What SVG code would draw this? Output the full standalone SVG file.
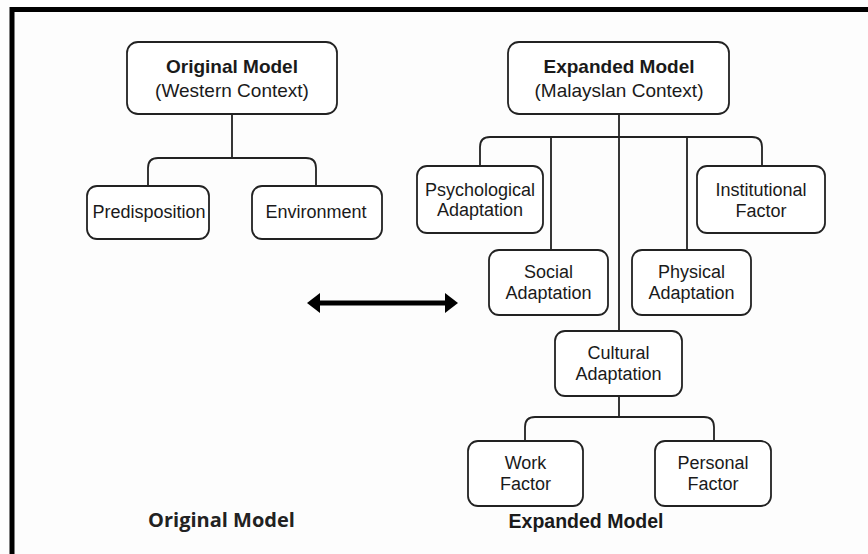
<svg xmlns="http://www.w3.org/2000/svg" width="868" height="554" viewBox="0 0 868 554">
<defs>
<style>
.box{fill:#ffffff;stroke:#222;stroke-width:1.8}
.t{font-family:"Liberation Sans",Arial,sans-serif;font-size:18px;fill:#1a1a1a;text-anchor:middle}
.h{font-family:"Liberation Sans",Arial,sans-serif;font-size:19px;fill:#1a1a1a;text-anchor:middle}
.b{font-weight:bold}
.lbl{font-family:"Open Sans","Liberation Sans",sans-serif;font-size:20px;font-weight:bold;fill:#222;text-anchor:middle}
.c{fill:none;stroke:#222;stroke-width:1.8}
</style>
</defs>
<rect width="868" height="554" fill="#fdfdfd"/>
<path d="M12 554 V9.5 H868" fill="none" stroke="#000" stroke-width="5"/>

<g id="connectors">
<path class="c" d="M232 114 V158 M148 186 V168 Q148 158 158 158 H306 Q316 158 316 168 V186"/>
<path class="c" d="M619 114 V331 M480 167 V147 Q480 137 490 137 H752 Q762 137 762 147 V167 M551 137 V250 M687 137 V250"/>
<path class="c" d="M619 396 V417 M525 441 V427 Q525 417 535 417 H704 Q714 417 714 427 V441"/>
<g id="double-arrow">
<line x1="318" y1="303" x2="447" y2="303" stroke="#000" stroke-width="5"/>
<polygon points="307,303 320,293 320,313" fill="#000"/>
<polygon points="458,303 445,293 445,313" fill="#000"/>
</g>
</g>

<g id="original-model">
<rect class="box" x="127" y="42" width="210" height="72" rx="11"/>
<text class="h b" x="232" y="73">Original Model</text>
<text class="h" x="232" y="97">(Western Context)</text>
</g>
<g id="predisposition">
<rect class="box" x="87" y="186" width="122" height="53" rx="10"/>
<text class="t" x="149" y="218">Predisposition</text>
</g>
<g id="environment">
<rect class="box" x="252" y="186" width="130" height="53" rx="10"/>
<text class="t" x="316" y="218">Environment</text>
</g>

<g id="expanded-model">
<rect class="box" x="508" y="42" width="221" height="72" rx="11"/>
<text class="h b" x="619" y="73">Expanded Model</text>
<text class="h" x="619" y="97">(Malayslan Context)</text>
</g>
<g id="psychological">
<rect class="box" x="417" y="166" width="126" height="67" rx="10"/>
<text class="t" x="480" y="196">Psychological</text>
<text class="t" x="480" y="216">Adaptation</text>
</g>
<g id="institutional">
<rect class="box" x="697" y="166" width="128" height="67" rx="10"/>
<text class="t" x="761" y="196">Institutional</text>
<text class="t" x="761" y="217">Factor</text>
</g>
<g id="social">
<rect class="box" x="489" y="250" width="119" height="65" rx="10"/>
<text class="t" x="548.5" y="278">Social</text>
<text class="t" x="548.5" y="299">Adaptation</text>
</g>
<g id="physical">
<rect class="box" x="632" y="250" width="119" height="65" rx="10"/>
<text class="t" x="691.5" y="278">Physical</text>
<text class="t" x="691.5" y="299">Adaptation</text>
</g>
<g id="cultural">
<rect class="box" x="555" y="331" width="127" height="65" rx="10"/>
<text class="t" x="618.5" y="359">Cultural</text>
<text class="t" x="618.5" y="380">Adaptation</text>
</g>
<g id="work">
<rect class="box" x="468" y="441" width="115" height="65" rx="10"/>
<text class="t" x="525.5" y="469">Work</text>
<text class="t" x="525.5" y="490">Factor</text>
</g>
<g id="personal">
<rect class="box" x="655" y="441" width="116" height="65" rx="10"/>
<text class="t" x="713" y="469">Personal</text>
<text class="t" x="713" y="490">Factor</text>
</g>

<g id="labels">
<text class="lbl" x="221.5" y="527">Original Model</text>
<text class="h b" x="586" y="528" style="font-size:19.5px">Expanded Model</text>
</g>
</svg>
